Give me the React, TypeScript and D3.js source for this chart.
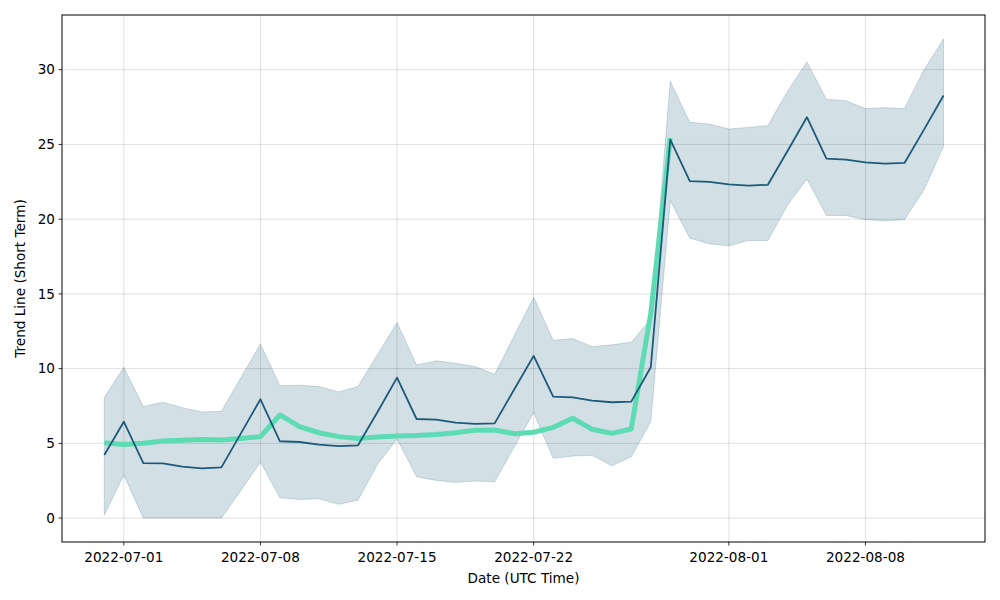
import React from "react";
import * as d3 from "d3";

// daily values
const dates = [
  "2022-06-30", "2022-07-01", "2022-07-02", "2022-07-03", "2022-07-04", "2022-07-05",
  "2022-07-06", "2022-07-07", "2022-07-08", "2022-07-09", "2022-07-10", "2022-07-11",
  "2022-07-12", "2022-07-13", "2022-07-14", "2022-07-15", "2022-07-16", "2022-07-17",
  "2022-07-18", "2022-07-19", "2022-07-20", "2022-07-21", "2022-07-22", "2022-07-23",
  "2022-07-24", "2022-07-25", "2022-07-26", "2022-07-27", "2022-07-28", "2022-07-29",
  "2022-07-30", "2022-07-31", "2022-08-01", "2022-08-02", "2022-08-03", "2022-08-04",
  "2022-08-05", "2022-08-06", "2022-08-07", "2022-08-08", "2022-08-09", "2022-08-10",
  "2022-08-11", "2022-08-12",
];

const trend = [
  4.22, 6.45, 3.68, 3.66, 3.44, 3.33, 3.39, 5.67, 7.95, 5.14, 5.09, 4.91,
  4.82, 4.87, 7.1, 9.4, 6.63, 6.59, 6.39, 6.3, 6.34, 8.6, 10.85, 8.13,
  8.08, 7.86, 7.75, 7.79, 10.09, 25.32, 22.55, 22.5, 22.33, 22.24, 22.3, 24.54,
  26.82, 24.05, 23.98, 23.8, 23.71, 23.76, 25.99, 28.27,
];

const upper = [
  8.08, 10.09, 7.46, 7.75, 7.39, 7.1, 7.14, 9.4, 11.65, 8.86, 8.89, 8.8,
  8.44, 8.8, 10.95, 13.08, 10.25, 10.52, 10.36, 10.14, 9.62, 12.2, 14.78, 11.9,
  12.01, 11.47, 11.59, 11.77, 13.3, 29.22, 26.48, 26.37, 26.03, 26.14, 26.26, 28.55,
  30.52, 28.02, 27.93, 27.4, 27.46, 27.4, 30.0, 32.06,
];

const lower = [
  0.2, 2.88, 0, 0, 0, 0, 0, 1.85, 3.75, 1.36, 1.25, 1.29,
  0.92, 1.2, 3.6, 5.29, 2.77, 2.52, 2.39, 2.48, 2.43, 4.75, 7.05, 4.0,
  4.15, 4.2, 3.5, 4.11, 6.45, 21.23, 18.73, 18.35, 18.22, 18.57, 18.57, 20.93,
  22.69, 20.25, 20.25, 19.96, 19.89, 19.96, 21.97, 24.87,
];

// actual series, ends on 07-29
const actual = [
  5.04, 4.93, 5.0, 5.16, 5.2, 5.25, 5.22, 5.33, 5.45, 6.9, 6.12, 5.71,
  5.45, 5.33, 5.42, 5.5, 5.52, 5.6, 5.71, 5.87, 5.89, 5.65, 5.74, 6.07,
  6.68, 5.94, 5.67, 5.96, 13.7, 25.43,
];

const xTicks = ["2022-07-01", "2022-07-08", "2022-07-15", "2022-07-22", "2022-08-01", "2022-08-08"];
const yTicks = [0, 5, 10, 15, 20, 25, 30];

const W = 1000;
const H = 600;
const margin = { top: 15, right: 15, bottom: 58, left: 62 };
const font = "DejaVu Sans, sans-serif";

export default function App() {
  const parse = d3.utcParse("%Y-%m-%d");
  const days = dates.map((d) => parse(d) as Date);

  const x = d3
    .scaleUtc()
    .domain([d3.utcHour.offset(days[0], -51.6), d3.utcHour.offset(days[days.length - 1], 51.6)])
    .range([margin.left, W - margin.right]);
  const y = d3.scaleLinear().domain([-1.6, 33.66]).range([H - margin.bottom, margin.top]);

  const area = d3
    .area<number>()
    .x((_, i) => x(days[i]))
    .y0((_, i) => y(lower[i]))
    .y1((_, i) => y(upper[i]));
  const line = d3
    .line<number>()
    .x((_, i) => x(days[i]))
    .y((d) => y(d));

  const bottom = H - margin.bottom;

  return (
    <svg width={W} height={H} style={{ position: "absolute", left: 0, top: 0, background: "#fff" }}>
      {/* confidence band */}
      <path d={area(trend) || ""} fill="#1f5f7f" fillOpacity={0.2} stroke="#1f5f7f" strokeOpacity={0.2} strokeWidth={1} />

      {/* grid */}
      {xTicks.map((t) => (
        <line key={t} x1={x(parse(t) as Date)} x2={x(parse(t) as Date)} y1={margin.top} y2={bottom} stroke="#000" strokeOpacity={0.12} strokeWidth={1} />
      ))}
      {yTicks.map((t) => (
        <line key={t} x1={margin.left} x2={W - margin.right} y1={y(t)} y2={y(t)} stroke="#000" strokeOpacity={0.12} strokeWidth={1} />
      ))}

      <path d={line(actual) || ""} fill="none" stroke="#5ddcb4" strokeWidth={5} strokeLinejoin="round" />
      <path d={line(trend) || ""} fill="none" stroke="#1d5a7a" strokeWidth={1.8} strokeLinejoin="round" />

      {/* frame */}
      <rect x={margin.left} y={margin.top} width={W - margin.left - margin.right} height={bottom - margin.top} fill="none" stroke="#000" strokeWidth={1} />

      {/* y axis */}
      {yTicks.map((t) => (
        <g key={t}>
          <line x1={margin.left - 3.5} x2={margin.left} y1={y(t)} y2={y(t)} stroke="#000" strokeWidth={0.8} />
          <text x={margin.left - 7} y={y(t)} dy="0.35em" textAnchor="end" fontFamily={font} fontSize={13.6} fill="#000">
            {t}
          </text>
        </g>
      ))}

      {/* x axis */}
      {xTicks.map((t) => {
        const px = x(parse(t) as Date);
        return (
          <g key={t}>
            <line x1={px} x2={px} y1={bottom} y2={bottom + 3.5} stroke="#000" strokeWidth={0.8} />
            <text x={px} y={bottom + 20} textAnchor="middle" fontFamily={font} fontSize={13.6} fill="#000">
              {t}
            </text>
          </g>
        );
      })}

      <text x={(margin.left + W - margin.right) / 2} y={583} textAnchor="middle" fontFamily={font} fontSize={13.6} fill="#000">
        Date (UTC Time)
      </text>
      <text transform={`translate(25,${(margin.top + bottom) / 2}) rotate(-90)`} textAnchor="middle" fontFamily={font} fontSize={13.6} fill="#000">
        Trend Line (Short Term)
      </text>
    </svg>
  );
}
